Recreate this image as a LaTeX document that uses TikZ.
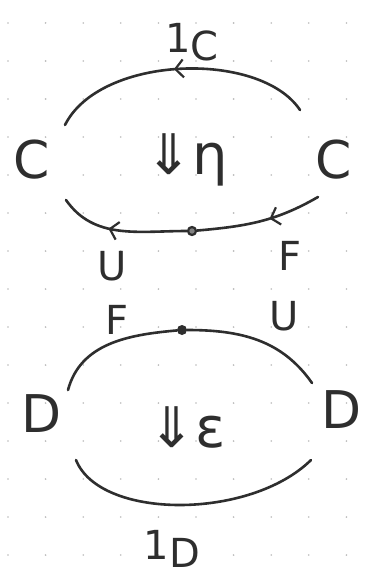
\documentclass[tikz,border=0pt]{standalone}
\usepackage{fontspec}
\newfontfamily\hand{DejaVu Sans}
\usetikzlibrary{arrows.meta,decorations.markings}
\definecolor{ink}{HTML}{2E2E2E}
\definecolor{griddot}{HTML}{BBBBBB}
\tikzset{
  obj/.style={text=ink, font=\hand\fontsize{52}{54}\selectfont, inner sep=0pt},
  lbl/.style={text=ink, font=\hand\fontsize{40}{42}\selectfont, inner sep=0pt},
  cell/.style={text=ink, font=\hand\fontsize{56}{58}\selectfont, inner sep=0pt},
  wire/.style={draw=ink, line width=2.6pt, line cap=round},
  midarrow/.style={postaction={decorate, decoration={markings,
      mark=at position #1 with {\arrow[ink, line width=2.2pt]{Straight Barb[length=8pt,width=18pt]}}}}},
}
\begin{document}
\begin{tikzpicture}[x=1pt,y=-1pt]
\useasboundingbox (0,0) rectangle (373,586);
\fill[white] (0,0) rectangle (373,586);
% paper dot grid
\foreach \i in {0,...,9} {
  \foreach \j in {0,...,15} {
    \fill[griddot] ({8+37.6*\i},{23+38*\j}) circle (0.9);
  }
}
% ---------- top: unit ----------
\node[obj] (cL) at (32,160) {C};
\node[obj] (cR) at (334,160) {C};
\coordinate (ta) at (300,110);
\coordinate (tb) at (65,125);
\coordinate (ba) at (318,197);
\coordinate (bb) at (66,200);
\node[circle, draw=ink, line width=2.2pt, fill=ink!60, minimum size=8pt, inner sep=0pt] (dot1) at (192,231) {};
\draw[wire, midarrow=0.52] (ta) .. controls (260,50) and (100,55) .. (tb);
\draw[wire, midarrow=0.42] (ba) to[out=210, in=5] (dot1);
\draw[wire, midarrow=0.6] (dot1) to[out=180, in=-55] (bb);
\node[lbl] (oneC) at (192,42) {1\raisebox{-8pt}{C}};
\node[lbl] (U1) at (112,266) {U};
\node[lbl] (F1) at (290,256) {F};
\node[cell] (eta) at (187,160) {⇓η};
% ---------- bottom: counit ----------
\node[obj] (dL) at (42,414) {D};
\node[obj] (dR) at (342,410) {D};
\node[circle, fill=ink, minimum size=10pt, inner sep=0pt] (dot2) at (182,330) {};
\coordinate (ua) at (68,390);
\coordinate (ub) at (312,383);
\coordinate (la) at (76,460);
\coordinate (lb) at (311,460);
\draw[wire] (ua) to[out=75, in=185] (dot2);
\draw[wire] (dot2) to[out=0, in=125] (ub);
\draw[wire] (la) .. controls (100,520) and (250,520) .. (lb);
\node[lbl] (F2) at (117,320) {F};
\node[lbl] (U2) at (284,316) {U};
\node[cell] (eps) at (187,427) {⇓ε};
\node[lbl] (oneD) at (172,549) {1\raisebox{-8pt}{D}};
\end{tikzpicture}
\end{document}
